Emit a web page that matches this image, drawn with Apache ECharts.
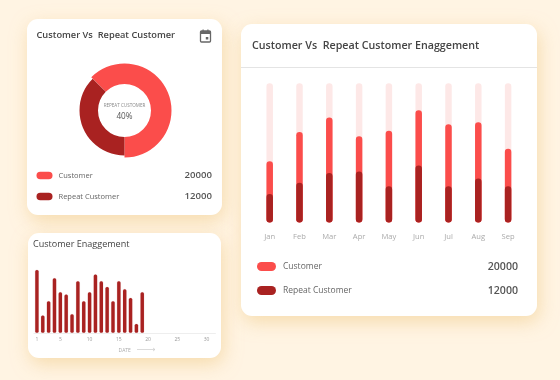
<!DOCTYPE html>
<html><head><meta charset="utf-8">
<style>html,body{margin:0;padding:0;background:#fff4e3}#c{width:560px;height:380px}</style>
<script src="https://cdn.jsdelivr.net/npm/echarts@6/dist/echarts.min.js"></script>
</head><body><div id="c"></div>
<script>
const FONT = '"Open Sans", Lato, sans-serif';
const months = ['Jan','Feb','Mar','Apr','May','Jun','Jul','Aug','Sep'];
const track = [100,100,100,100,100,100,100,100,100];
const customerMonthly = [44,65,75.5,62,66,80.6,70.6,72,53];
const repeatMonthly = [20.4,28.5,35.5,36.7,26,41,26,31.6,26];
const days = Array.from({length:31},(_,i)=>String(i+1));
const dayTicks = ['1','5','10','15','20','25','30'];
const engagement = [63.3,17.7,32,55,41,38.7,19,52,32,41,58.7,52,46.3,32,52,44,35.3,9.3,41];
const split = [{name:'Customer',value:20000},{name:'Repeat Customer',value:12000}];
const RED='#fb4d4b', DARK='#a92221', PALE='#fde8e7';

function card(x,y,w,h){return {type:'rect',z:0,shape:{x,y,width:w,height:h,r:11},style:{fill:'#fff',shadowBlur:18,shadowOffsetX:2,shadowOffsetY:6,shadowColor:'rgba(238,200,130,.55)'}};}
function text(x,y,t,size,color,weight,align){return {type:'text',z:1,x,y,style:{text:t,font:(weight||400)+' '+size+'px '+FONT,fill:color,align:align||'left',verticalAlign:'middle'}};}
function swatch(x,y,w,h,c){return {type:'rect',z:1,shape:{x,y:y-h/2,width:w,height:h,r:h/2},style:{fill:c}};}
function legendRows(xs,xt,xv,ys,sw,sh,ts,vs){
  const out=[];
  split.forEach((d,i)=>{
    out.push(swatch(xs,ys[i],sw,sh,i?DARK:RED));
    out.push(text(xt,ys[i],d.name,ts,'#666',400));
    out.push(text(xv,ys[i],String(d.value),vs,'#555',600,'right'));
  });
  return out;
}
const graphic=[
  card(27,19,195,196),card(28,233,193,125),card(241,24,296,292),
  text(36.5,35,'Customer Vs  Repeat Customer',9.25,'#444',600),
  text(252,45.5,'Customer Vs  Repeat Customer Enaggement',10.7,'#444',600),
  text(33,244,'Customer Enaggement',9.05,'#444',400),
  {type:'rect',z:1,shape:{x:241,y:67,width:296,height:1},style:{fill:'#e4e4e4'}},
  {type:'rect',z:1,shape:{x:200.5,y:31,width:10,height:11,r:1},style:{fill:'none',stroke:'#666',lineWidth:1.3}},
  {type:'rect',z:1,shape:{x:200.5,y:31,width:10,height:3},style:{fill:'#666'}},
  {type:'rect',z:1,shape:{x:202.5,y:29.5,width:1.2,height:2},style:{fill:'#666'}},
  {type:'rect',z:1,shape:{x:207.3,y:29.5,width:1.2,height:2},style:{fill:'#666'}},
  {type:'rect',z:1,shape:{x:205.8,y:37,width:2.5,height:2.5},style:{fill:'#666'}},
  text(124.5,106,'REPEAT CUSTOMER',4.6,'#888',400,'center'),
  text(124.5,117,'40%',8.2,'#555',400,'center'),
  ...legendRows(36.5,58.5,212,[175.5,196.5],16,7.5,7.5,9.6),
  ...legendRows(257,283,518,[266.5,290.5],19,9,8.5,10.6),
  {type:'line',z:1,shape:{x1:137,y1:349.5,x2:155,y2:349.5},style:{stroke:'#ccc',lineWidth:.7}},
  {type:'polyline',z:1,shape:{points:[[153,348],[155,349.5],[153,351]]},style:{stroke:'#ccc',lineWidth:.7,fill:'none'}}
];
const pieOrder=[split[1],split[0]];
function pie(radius,keep,color){
  return {type:'pie',center:[124.5,110.5],radius,startAngle:-90,clockwise:true,silent:true,
    label:{show:false},labelLine:{show:false},
    data:pieOrder.map(d=>({name:d.name,value:d.value,itemStyle:{color:d.name===keep?color:'transparent'}}))};
}
const chart=echarts.init(document.getElementById('c'));
chart.setOption({
  animation:false,backgroundColor:'#fff4e3',textStyle:{fontFamily:FONT},graphic,
  grid:[
    {left:254.8,width:268.2,top:83.3,height:139.2},
    {left:34,width:181.4,top:263,height:70}
  ],
  xAxis:[
    {gridIndex:0,type:'category',data:months,axisLine:{show:false},axisTick:{show:false},
      axisLabel:{color:'#aaa',fontSize:7.6,margin:10,interval:0}},
    {gridIndex:1,type:'category',data:days,axisLine:{lineStyle:{color:'#eee',width:1}},axisTick:{show:false},
      axisLabel:{color:'#999',fontSize:5,margin:4,interval:(i,v)=>dayTicks.includes(v)},
      name:'DATE',nameLocation:'middle',nameGap:15,nameTextStyle:{color:'#aaa',fontSize:5}}
  ],
  yAxis:[
    {gridIndex:0,type:'value',min:0,max:100,show:false},
    {gridIndex:1,type:'value',min:0,max:70,show:false}
  ],
  series:[
    pie([26.5,47],'Customer',RED),
    pie([26.5,45],'Repeat Customer',DARK),
    ...[[track,PALE],[customerMonthly,RED],[repeatMonthly,DARK]].map(([data,color])=>({
      type:'bar',xAxisIndex:0,yAxisIndex:0,data,barWidth:6.5,barGap:'-100%',silent:true,
      itemStyle:{color,borderRadius:3.2}})),
    {type:'bar',xAxisIndex:1,yAxisIndex:1,data:engagement,barWidth:4,silent:true,
      itemStyle:{color:DARK,borderRadius:[1.5,1.5,1.5,1.5],borderColor:'rgba(169,34,33,.2)',borderWidth:.6}}
  ]
});
</script></body></html>
